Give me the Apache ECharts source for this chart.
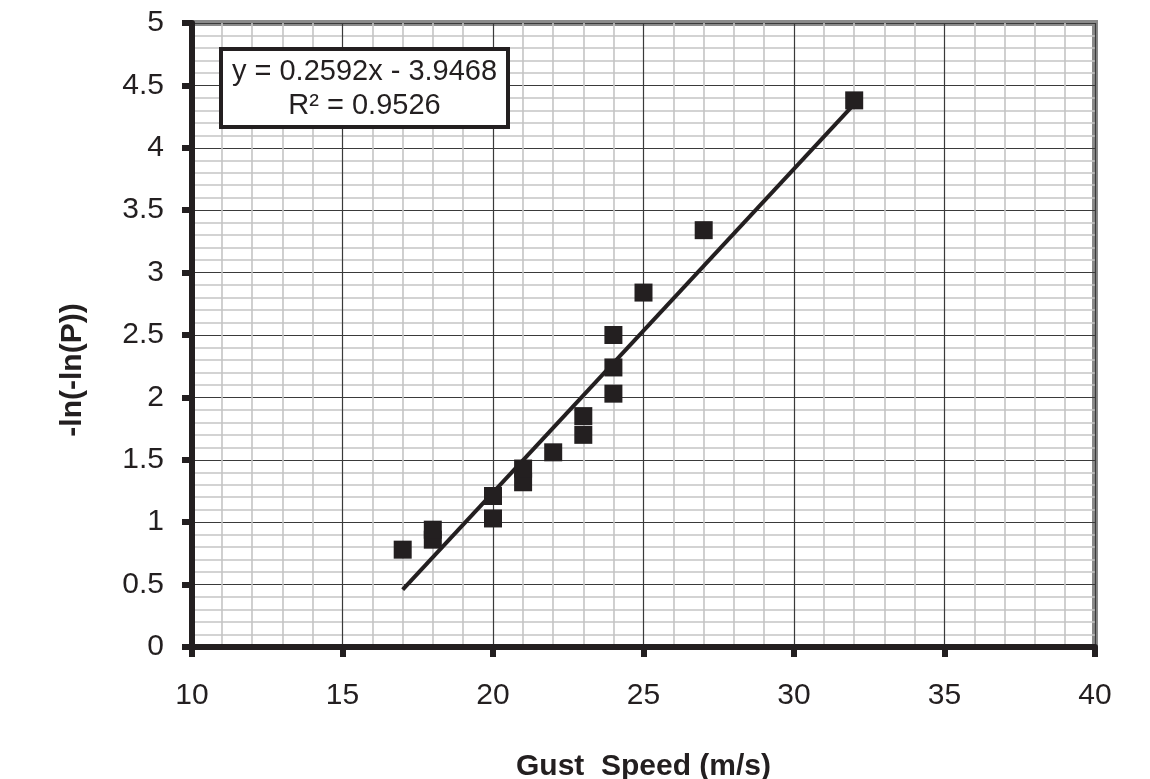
<!DOCTYPE html>
<html>
<head>
<meta charset="utf-8">
<script src="https://cdn.jsdelivr.net/npm/echarts@6/dist/echarts.min.js"></script>
<style>
html,body{margin:0;padding:0;background:#fff;}
#chart{width:1150px;height:779px;}
</style>
</head>
<body>
<div id="chart"></div>
<script>
// Data
var gustSpeed = [17, 18, 18, 20, 20, 21, 21, 22, 23, 23, 24, 24, 24, 25, 27, 32];
var gumbelY   = [0.78, 0.86, 0.94, 1.03, 1.21, 1.32, 1.43, 1.56, 1.70, 1.85, 2.03, 2.24, 2.50, 2.84, 3.34, 4.38];
var trendX = [17, 32];
var trendY = [0.46, 4.35];
var equationText = 'y = 0.2592x - 3.9468';
var r2Text = 'R² = 0.9526';
var xTitle = 'Gust  Speed (m/s)';
var yTitle = '-ln(-ln(P))';

var scatterData = gustSpeed.map(function (x, i) { return [x, gumbelY[i]]; });
var trendData = trendX.map(function (x, i) { return [x, trendY[i]]; });

var font = '"Liberation Sans", Arial, sans-serif';
var chart = echarts.init(document.getElementById('chart'), null, {renderer: 'canvas'});
chart.setOption({
  animation: false,
  backgroundColor: '#ffffff',
  grid: {
    left: 192, right: 55, top: 23, bottom: 132,
    outerBoundsMode: 'none', containLabel: false,
    show: true, borderColor: '#8a8a8a', borderWidth: 6, backgroundColor: 'transparent'
  },
  xAxis: {
    type: 'value', min: 10, max: 40, interval: 5,
    name: xTitle, nameLocation: 'middle', nameGap: 105,
    nameTextStyle: {fontFamily: font, fontSize: 30, fontWeight: 'bold', color: '#231f20'},
    axisLine: {show: true, onZero: false, lineStyle: {color: '#231f20', width: 6}},
    axisTick: {show: true, length: 10, lineStyle: {color: '#231f20', width: 6}},
    axisLabel: {fontFamily: font, fontSize: 30, color: '#231f20', margin: 34},
    splitLine: {show: true, lineStyle: {color: '#3a3a3a', width: 1.2}},
    minorTick: {show: false, splitNumber: 5},
    minorSplitLine: {show: true, lineStyle: {color: '#c4c4c4', width: 1.6}}
  },
  yAxis: {
    type: 'value', min: 0, max: 5, interval: 0.5,
    name: yTitle, nameLocation: 'middle', nameGap: 104, nameRotate: 90,
    nameTextStyle: {fontFamily: font, fontSize: 30, fontWeight: 'bold', color: '#231f20', padding: [0, 70, 0, 0]},
    axisLine: {show: true, onZero: false, lineStyle: {color: '#231f20', width: 6}},
    axisTick: {show: true, length: 10, lineStyle: {color: '#231f20', width: 6}},
    axisLabel: {fontFamily: font, fontSize: 30, color: '#231f20', margin: 28},
    splitLine: {show: true, lineStyle: {color: '#3a3a3a', width: 1.2}},
    minorTick: {show: false, splitNumber: 5},
    minorSplitLine: {show: true, lineStyle: {color: '#c4c4c4', width: 1.6}}
  },
  series: [
    {
      type: 'line', data: trendData, symbol: 'none', silent: true, z: 3,
      lineStyle: {color: '#231f20', width: 4}
    },
    {
      type: 'scatter', data: scatterData, symbol: 'rect', symbolSize: 18, z: 4,
      itemStyle: {color: '#231f20', opacity: 1}
    }
  ],
  graphic: [
    {
      type: 'group', left: 219, top: 47, z: 100,
      children: [
        {type: 'rect', z: 100, shape: {x: 0, y: 0, width: 287, height: 78},
         style: {fill: '#ffffff', stroke: '#231f20', lineWidth: 4}},
        {type: 'text', z: 101, x: 143.5, y: 23, style: {text: equationText, font: '29px ' + font, fill: '#231f20', textAlign: 'center', textVerticalAlign: 'middle'}},
        {type: 'text', z: 101, x: 143.5, y: 57, style: {text: r2Text, font: '29px ' + font, fill: '#231f20', textAlign: 'center', textVerticalAlign: 'middle'}}
      ]
    }
  ]
});
</script>
</body>
</html>
